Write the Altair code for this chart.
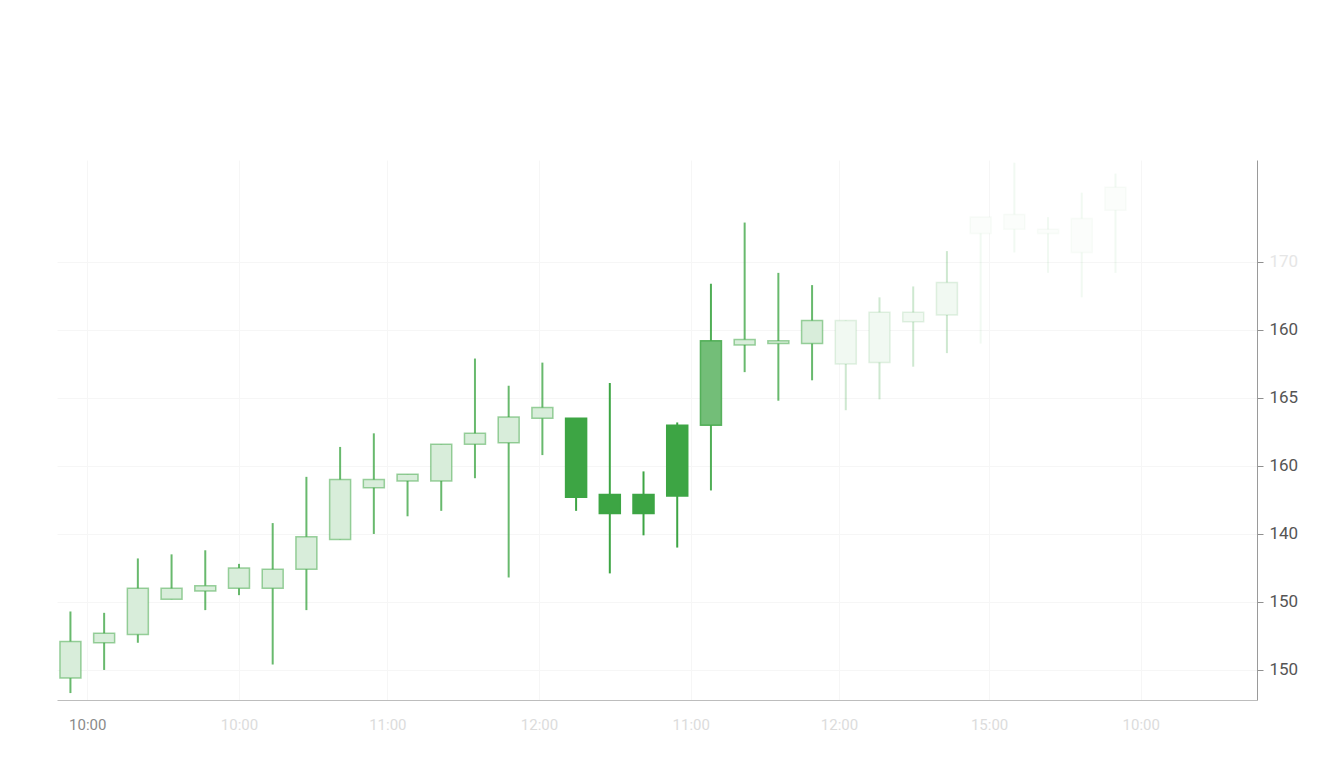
import altair as alt
import pandas as pd

# ---- data ----
slot = list(range(32))
open_ = [149.4, 152.0, 152.6, 155.2, 155.8, 156.0, 156.0, 157.4, 159.6, 163.4, 163.9, 163.9, 166.6, 166.7, 168.5,
         168.5, 162.9, 162.9, 162.8, 168.0, 173.9, 174.0, 174.0, 172.5, 172.6, 175.6, 176.1, 182.1, 182.4, 182.1, 180.7, 183.8]
close = [152.1, 152.7, 156.0, 156.0, 156.2, 157.5, 157.4, 159.8, 164.0, 164.0, 164.4, 166.6, 167.4, 168.6, 169.3,
         162.7, 161.5, 161.5, 168.0, 174.2, 174.3, 174.2, 175.7, 175.7, 176.3, 176.3, 178.5, 183.3, 183.5, 182.4, 183.2, 185.5]
high = [154.3, 154.2, 158.2, 158.5, 158.8, 157.8, 160.8, 164.2, 166.4, 167.4, 164.4, 166.6, 172.9, 170.9, 172.6,
        168.5, 171.1, 164.6, 168.2, 178.4, 182.9, 179.2, 178.3, 175.7, 177.4, 178.2, 180.8, 183.3, 187.3, 183.3, 185.1, 186.5]
low = [148.3, 150.0, 152.0, 155.2, 154.4, 155.5, 150.4, 154.4, 159.6, 160.0, 161.3, 161.7, 164.1, 156.8, 165.8,
       161.7, 157.1, 159.9, 159.0, 163.2, 171.9, 169.8, 171.3, 169.1, 169.9, 172.3, 173.3, 174.0, 180.7, 179.2, 177.4, 179.2]
tone = ["light"] * 15 + ["solid"] * 4 + ["medium"] + ["light"] * 3 + ["faint"] * 4 + ["ghost"] * 5

y_tick_values = [150, 155, 160, 165, 170, 175, 180]
y_tick_labels = ["150", "150", "140", "160", "165", "160", "170"]
x_tick_values = [0.5, 5.0, 9.4, 13.9, 18.4, 22.8, 27.25, 31.75]
x_tick_labels = ["10:00", "10:00", "11:00", "12:00", "11:00", "12:00", "15:00", "10:00"]

df = pd.DataFrame({"slot": slot, "open": open_, "close": close,
                   "high": high, "low": low, "tone": tone})

GREEN = "#3da544"

# style per tone (fill, stroke, wick opacity)
FILL = {"solid": 1.0, "medium": 0.72, "light": 0.2, "faint": 0.07, "ghost": 0.02}
STROKE = {"solid": 1.0, "medium": 0.8, "light": 0.5, "faint": 0.14, "ghost": 0.03}
WICK = {"solid": 1.0, "medium": 0.9, "light": 0.78, "faint": 0.25, "ghost": 0.07}


def js_list(vals):
    return "[" + ",".join(repr(v) if isinstance(v, str) else str(v) for v in vals) + "]"


def js_map(d):
    return "{" + ",".join(f"'{k}':{v}" for k, v in d.items()) + "}"


y_label_expr = js_list(y_tick_labels) + "[round((datum.value-150)/5)]"
x_label_expr = js_list(x_tick_labels) + "[indexof(" + js_list(x_tick_values) + ", datum.value)]"

x_enc = alt.X("slot:Q",
              scale=alt.Scale(domain=[-0.25, 35.05], nice=False, zero=False),
              axis=alt.Axis(values=x_tick_values, labelExpr=x_label_expr, title=None,
                            ticks=False, labelFontSize=15, labelPadding=17,
                            labelFont="Roboto",
                            labelColor={"condition": {"test": "datum.value < 1", "value": "#8a8a8a"},
                                        "value": "#dcdcdc"},
                            domainColor="#bdbdbd", grid=True, gridColor="#f6f6f6"))

y_scale = alt.Scale(domain=[147.79, 187.5], nice=False, zero=False)
y_axis = alt.Axis(orient="right", values=y_tick_values, labelExpr=y_label_expr, title=None,
                  tickSize=6, tickColor="#8f8f8f", domainColor="#9a9a9a",
                  labelFontSize=17, labelPadding=6, labelFont="Roboto",
                  labelColor={"condition": {"test": "datum.value >= 180", "value": "#e6e6e6"},
                              "value": "#555555"},
                  grid=True, gridColor="#f6f6f6")

base = alt.Chart(df).transform_calculate(
    fo=js_map(FILL) + "[datum.tone]",
    so=js_map(STROKE) + "[datum.tone]",
    wo=js_map(WICK) + "[datum.tone]",
)

wicks = base.mark_rule(color=GREEN, strokeWidth=2, clip=True).encode(
    x=x_enc,
    y=alt.Y("low:Q", scale=y_scale, axis=y_axis),
    y2="high:Q",
    strokeOpacity=alt.StrokeOpacity("wo:Q", scale=None),
)

# opaque white underlay so wicks do not show through pale bodies
underlay = base.mark_bar(color="white", size=21, clip=True).encode(
    x=alt.X("slot:Q"),
    y=alt.Y("open:Q"),
    y2="close:Q",
)

bodies = base.mark_bar(color=GREEN, size=21, strokeWidth=1.5, stroke=GREEN, clip=True).encode(
    x=alt.X("slot:Q"),
    y=alt.Y("open:Q"),
    y2="close:Q",
    fillOpacity=alt.FillOpacity("fo:Q", scale=None),
    strokeOpacity=alt.StrokeOpacity("so:Q", scale=None),
)

chart = alt.layer(wicks, underlay, bodies).resolve_scale(strokeOpacity="independent").properties(
    width=1200, height=540,
    padding={"left": 49, "top": 152, "right": 5, "bottom": 5},
    background="white",
).configure_view(stroke=None)

chart.save("out.html", embed_options={"renderer": "svg", "actions": False})
